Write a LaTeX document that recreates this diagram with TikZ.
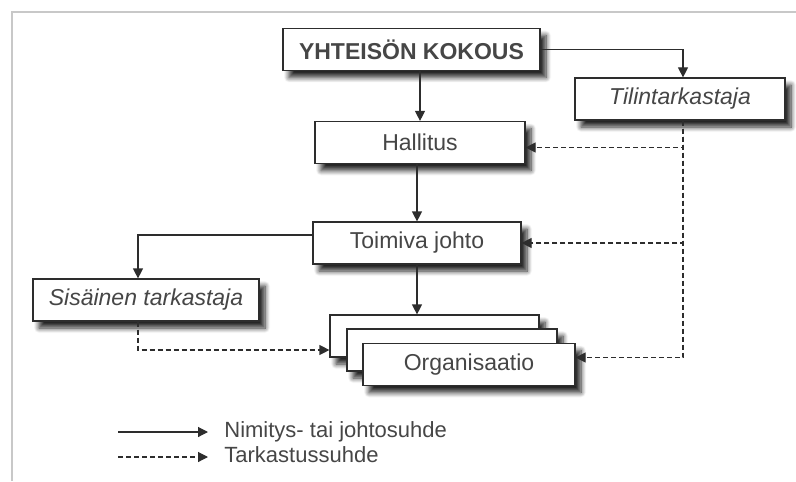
\documentclass[tikz,border=0pt]{standalone}
\usepackage{fontspec}
\setmainfont{Liberation Sans}
\usepackage{tikz}
\usetikzlibrary{arrows.meta, calc, shadows, shadows.blur}
\definecolor{mydark}{RGB}{45,45,45}
\definecolor{mytext}{RGB}{70,70,70}
\definecolor{myframe}{RGB}{200,200,200}
\definecolor{myshadow}{RGB}{60,60,60}
\tikzset{
  box/.style={rectangle, draw=mydark, fill=white, text=mytext,
    minimum width=105pt, minimum height=21pt, line width=0.6pt,
    font=\fontsize{11.5}{13.8}\selectfont,
    blur shadow={shadow xshift=3pt, shadow yshift=-3.5pt, shadow blur radius=2.5pt,
      shadow blur steps=8, shadow opacity=85}},
  legend/.style={anchor=west, text=mytext, inner xsep=8pt, inner ysep=1pt,
    font=\fontsize{11}{13}\selectfont},
  arrow/.style={-{Triangle[length=5pt,width=5pt]}, line width=0.6pt, color=mydark},
  dasharrow/.style={-{Triangle[length=5pt,width=5pt]}, line width=0.6pt, color=mydark,
    dash pattern=on 2.5pt off 1.5pt}
}
\begin{document}
\begin{tikzpicture}[x=0.5pt, y={(0pt,-0.5pt)}]
  \useasboundingbox (0,0) rectangle (796,481);
  % Frame
  \draw[myframe, line width=0.6pt] (12,481) -- (12,12) -- (796,12);

  % Boxes
  \node[box, minimum width=128.5pt, font=\fontsize{11.5}{13.8}\selectfont\bfseries] (kokous) at (411.5,49.5) {YHTEISÖN KOKOUS};
  \node[box, font=\fontsize{11.5}{13.8}\selectfont\itshape] (tilin) at (680,99) {Tilintarkastaja};
  \node[box] (hallitus) at (420,142.5) {Hallitus};
  \node[box, minimum width=104pt] (johto) at (417,243) {Toimiva johto};
  \node[box, minimum width=113pt, font=\fontsize{11.5}{13.8}\selectfont\itshape] (sisainen) at (146,300) {Sisäinen tarkastaja};
  \node[box, minimum width=104.5pt] (org1) at (434.5,336) {};
  \node[box] (org2) at (452,350) {};
  \node[box, minimum width=106pt] (org3) at (469,364.5) {Organisaatio};

  % Solid connectors
  \draw[arrow] (kokous.south -| hallitus.north) -- (hallitus.north);
  \draw[arrow] (kokous.east) -| ($(tilin.north)+(3,0)$);
  \draw[arrow] (hallitus.south -| johto.north) -- (johto.north);
  \draw[arrow] ($(johto.west)+(0,-8)$) -| ($(sisainen.north)+(-8,0)$);
  \draw[arrow] (johto.south) -- (johto.south |- org1.north);

  % Dashed connectors
  \coordinate (tilinlow) at ($(tilin.south)+(3,0)$);
  \draw[dasharrow] (tilinlow) |- ($(hallitus.east)+(0,5)$);
  \draw[dasharrow] (tilinlow) |- (johto.east);
  \draw[dasharrow] (tilinlow) |- ($(org3.east)+(0,-7)$);
  \draw[dasharrow] ($(sisainen.south)+(-8,0)$) |- ($(org1.west)+(0,14)$);

  % Legend
  \coordinate (solidstart) at (118,432);
  \coordinate (dashstart) at (118,457);
  \node[legend] (nimitys) at (208,432) {Nimitys- tai johtosuhde};
  \node[legend] (tarkastus) at (208,455) {Tarkastussuhde};
  \draw[arrow] (solidstart) -- (nimitys.west);
  \draw[dasharrow] (dashstart) -- (dashstart -| tarkastus.west);
\end{tikzpicture}
\end{document}
